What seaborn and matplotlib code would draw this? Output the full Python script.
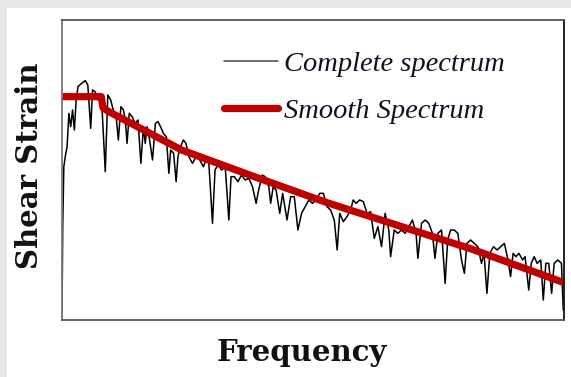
import matplotlib
matplotlib.use("Agg")
import matplotlib.pyplot as plt
import seaborn as sns
import pandas as pd
from matplotlib.patches import Rectangle

# ---- data (arbitrary units) ----
complete_freq = [0, 2, 5, 9, 14, 19, 24, 29, 34, 39, 44, 54, 64, 71, 79, 84, 91, 99, 109, 119,
                 126, 134, 141, 149, 155, 162, 169, 174, 179, 185, 193, 201, 209, 217, 224, 229,
                 234, 241, 249, 257, 264, 271, 279, 287, 294, 299, 307, 314, 319, 326, 334, 341,
                 349, 359, 369, 379, 389, 396, 404, 414, 421, 429, 439, 449, 459, 465, 474, 484,
                 494, 504, 514, 524, 534, 541, 551, 559, 569, 574, 581, 589, 599, 607, 619, 629,
                 639, 649, 659, 669, 679, 689, 699, 709, 719, 729, 739, 749, 757, 764, 774, 784,
                 794, 801, 809, 819, 829, 839, 849, 859, 869, 879, 889, 899, 904, 914, 924, 934,
                 944, 954, 964, 974, 979, 989, 999, 1009, 1019, 1026, 1034, 1044, 1054, 1061,
                 1069, 1079, 1089, 1099, 1107, 1114, 1124, 1134, 1144, 1154, 1161, 1169, 1177,
                 1187, 1197, 1207, 1217, 1227, 1234, 1241, 1249, 1257, 1267, 1274, 1284, 1291,
                 1299, 1307, 1317, 1324, 1331, 1339, 1347, 1354, 1364, 1374, 1379]
complete_strain = [10, 280, 460, 490, 520, 620, 580, 630, 570, 660, 700, 710, 718, 705, 575, 690,
                   685, 660, 660, 445, 675, 660, 630, 610, 540, 640, 630, 600, 530, 620, 610, 590,
                   600, 470, 580, 530, 580, 540, 480, 590, 595, 580, 560, 550, 440, 510, 500, 415,
                   490, 520, 540, 530, 490, 470, 490, 480, 460, 480, 470, 290, 450, 465, 450, 460,
                   300, 430, 430, 415, 435, 420, 425, 400, 350, 390, 435, 430, 400, 350, 400, 390,
                   320, 380, 300, 370, 370, 270, 320, 340, 360, 350, 360, 380, 380, 340, 330, 300,
                   210, 320, 295, 310, 330, 360, 350, 360, 355, 320, 325, 245, 280, 220, 320, 270,
                   190, 270, 260, 270, 260, 280, 300, 260, 185, 290, 300, 290, 260, 185, 260, 270,
                   110, 240, 270, 270, 260, 180, 140, 230, 240, 230, 220, 170, 200, 80, 200, 220,
                   210, 220, 230, 180, 130, 200, 190, 200, 180, 190, 90, 170, 190, 170, 180, 60,
                   170, 170, 80, 170, 180, 170, 30]

smooth_freq = [0, 108, 113, 129, 329, 529, 729, 929, 1129, 1381]
smooth_strain = [670, 670, 636, 625, 510, 430, 352, 282, 212, 112]

labels = ["Complete spectrum", "Smooth Spectrum"]
x_label = "Frequency"
y_label = "Shear Strain"

df_c = pd.DataFrame({"freq": complete_freq, "strain": complete_strain})
df_s = pd.DataFrame({"freq": smooth_freq, "strain": smooth_strain})

sns.set_theme(style="white")
plt.rcParams["font.family"] = ["DejaVu Serif"]

W, H = 571, 377
fig = plt.figure(figsize=(W / 100, H / 100), dpi=100)
fig.patch.set_facecolor("#e9e8e6")
fig.add_artist(Rectangle((7 / W, 0), 1 - 7 / W, (H - 8) / H, transform=fig.transFigure,
                         facecolor="white", edgecolor="none", zorder=0))

ax = fig.add_axes([62 / W, (H - 320) / H, 502 / W, 300 / H])
ax.set_facecolor("white")

sns.lineplot(data=df_c, x="freq", y="strain", ax=ax, sort=False, estimator=None,
             color="black", linewidth=1.1, label=labels[0])
sns.lineplot(data=df_s, x="freq", y="strain", ax=ax, sort=False, estimator=None,
             color="#c00000", linewidth=5.2, label=labels[1],
             solid_joinstyle="round", solid_capstyle="butt")

ax.set_xlim(0, 1381)
ax.set_ylim(0, 900)
ax.set_xticks([])
ax.set_yticks([])
for side, col in [("left", "#777777"), ("top", "#555555"), ("bottom", "#555555"), ("right", "#111111")]:
    ax.spines[side].set_visible(True)
    ax.spines[side].set_color(col)
    ax.spines[side].set_linewidth(1.3)

ax.set_xlabel(x_label, fontsize=21, fontweight="bold", color="#111111")
ax.set_ylabel(y_label, fontsize=21, fontweight="bold", color="#111111")
ax.xaxis.set_label_coords(0.478, -0.06, transform=ax.transAxes)
ax.xaxis.label.set_va("top")
ax.yaxis.set_label_coords(-0.064, 0.513, transform=ax.transAxes)
ax.yaxis.label.set_va("center")

leg = ax.legend(loc="upper left", bbox_to_anchor=(0.323, 0.895), frameon=False,
                prop={"family": "Liberation Serif", "style": "italic", "size": 20.5},
                handlelength=1.9, handletextpad=0.2, labelspacing=0.72,
                borderpad=0, borderaxespad=0)
for t in leg.get_texts():
    t.set_color("#111122")
hs = leg.legend_handles
hs[0].set_color("#555555")
hs[0].set_linewidth(1.2)
hs[1].set_linewidth(5.2)
hs[1].set_solid_capstyle("round")

fig.savefig("out.png", dpi=100, facecolor=fig.get_facecolor())
